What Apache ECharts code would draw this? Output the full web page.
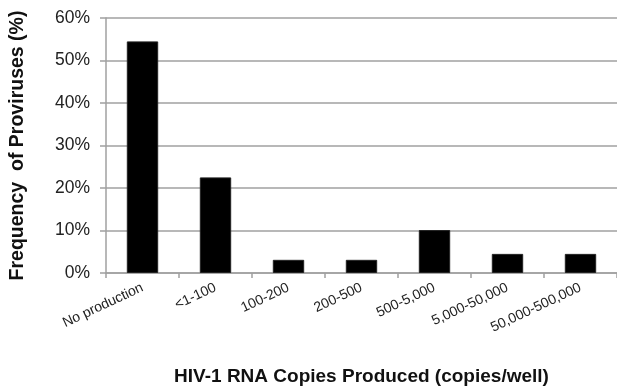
<!DOCTYPE html>
<html><head><meta charset="utf-8">
<script src="https://cdn.jsdelivr.net/npm/echarts@6/dist/echarts.min.js"></script>
<style>html,body{margin:0;padding:0;background:#fff}#c{width:617px;height:387px}</style>
</head><body><div id="c"></div>
<script>
const categories = ['No production','<1-100','100-200','200-500','500-5,000','5,000-50,000','50,000-500,000'];
const values = [54.5, 22.5, 3.1, 3.1, 10.1, 4.5, 4.5];
const yTicks = [0, 10, 20, 30, 40, 50, 60];

const chart = echarts.init(document.getElementById('c'), null, {renderer:'canvas'});
const font = '"Liberation Sans", Arial, sans-serif';
chart.setOption({
  animation:false,
  backgroundColor:'#fff',
  grid:{left:106, right:0, top:18, bottom:114, containLabel:false, outerBoundsMode:'none'},
  xAxis:{
    type:'category', data:categories,
    name:'HIV-1 RNA Copies Produced (copies/well)',
    nameLocation:'middle', nameGap:94,
    nameTextStyle:{fontFamily:font, fontWeight:'bold', fontSize:19, color:'#111'},
    axisLine:{lineStyle:{color:'#a0a0a0', width:1.5}},
    axisTick:{show:true, alignWithLabel:false, length:5, lineStyle:{color:'#a0a0a0', width:1.5}},
    axisLabel:{rotate:25, interval:0, margin:14, fontFamily:font, fontSize:14, color:'#222'}
  },
  yAxis:{
    type:'value', min:yTicks[0], max:yTicks[yTicks.length-1], interval:10,
    name:'Frequency  of Proviruses (%)',
    nameLocation:'middle', nameGap:78,
    nameTextStyle:{fontFamily:font, fontWeight:'bold', fontSize:19.5, color:'#111'},
    axisLine:{show:true, lineStyle:{color:'#a0a0a0', width:1.5}},
    axisTick:{show:true, length:6, lineStyle:{color:'#a0a0a0', width:1.5}},
    splitLine:{show:true, lineStyle:{color:'#a0a0a0', width:1.5}},
    axisLabel:{margin:16, fontFamily:font, fontSize:17.5, color:'#222', formatter:v=>v+'%'}
  },
  series:[{
    type:'bar', data:values, barWidth:'43%',
    itemStyle:{color:'#000', borderColor:'#222', borderWidth:1}
  }]
});
</script></body></html>
